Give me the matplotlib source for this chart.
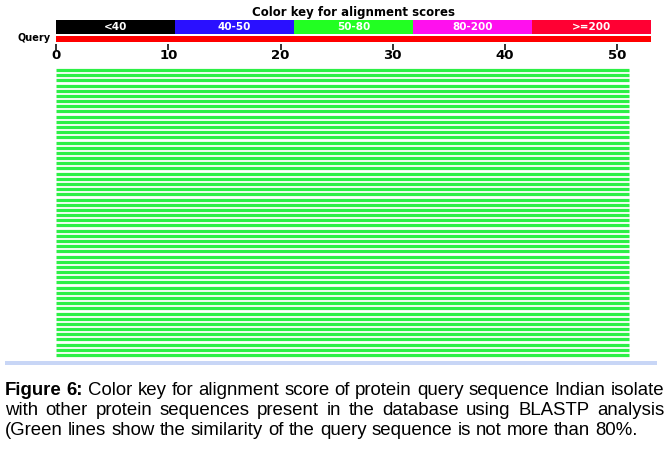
import matplotlib
matplotlib.use("Agg")
import matplotlib.pyplot as plt
from matplotlib.patches import Rectangle

# color key categories
key_labels = ['<40', '40-50', '50-80', '80-200', '>=200']
key_colors = ['#000000', '#2a10ff', '#22ff22', '#ff10ee', '#ff0033']

# query length and hit alignments (start, end on query)
query_len = 53
n_hits = 56
hit_start = [0] * n_hits
hit_end = [51] * n_hits

tick_vals = [0, 10, 20, 30, 40, 50]

caption_bold = 'Figure 6:'
caption_lines = [
    'Color key for alignment score of protein query sequence Indian isolate',
    'with other protein sequences present in the database using BLASTP analysis',
    '(Green lines show the similarity of the query sequence is not more than 80%.',
]

W, H = 667, 459
fig = plt.figure(figsize=(W / 100, H / 100), dpi=100)
fig.patch.set_facecolor('white')

left = 56 / W
width = 595 / W

# header: color key, query bar, ruler
hx = fig.add_axes([left, 1 - 44 / H, width, 44 / H])
hx.set_xlim(0, query_len)
hx.set_ylim(44, 0)
for s in hx.spines.values():
    s.set_visible(False)
hx.set_yticks([])
hx.set_xticks(tick_vals)
hx.set_xticklabels([str(t) for t in tick_vals], fontsize=9.5, fontweight='bold',
                   family='DejaVu Sans')
hx.tick_params(axis='x', direction='out', length=4.5, width=1.3, pad=-1, color='#222222')

seg_w = query_len / len(key_labels)
for i, (lab, col) in enumerate(zip(key_labels, key_colors)):
    hx.barh(26.5, seg_w, left=i * seg_w, height=14, color=col, edgecolor='none')
    hx.text(i * seg_w + seg_w / 2, 27, lab, color='white', fontsize=7.5,
            fontweight='bold', ha='center', va='center')
hx.barh(39, query_len, left=0, height=5.5, color='#ff0000', edgecolor='none')
hx.text(query_len / 2, 12.5, 'Color key for alignment scores', fontsize=8.5,
        fontweight='bold', ha='center', va='center')
hx.text(-0.5, 38, 'Query', fontsize=7, fontweight='bold', ha='right', va='center')

# hits
ax = fig.add_axes([left, 1 - 357.6 / H, width, (357.6 - 67.4) / H])
ax.set_xlim(0, query_len)
ax.set_ylim(n_hits - 0.5, -0.5)
ax.axis('off')
for i in range(n_hits):
    ax.hlines(i, hit_start[i], hit_end[i], color='#2cf046', linewidth=2.3)

# bottom separator
fig.add_artist(Rectangle((5 / W, 1 - 364.5 / H), 652 / W, 4 / H,
                         transform=fig.transFigure, color='#c8d6f6', lw=0))

# caption, justified like the journal layout
fs = 13.4
x_left, x_right = 5, 664
renderer = fig.canvas.get_renderer()


def word_width(w, bold):
    t = fig.text(0, 0, w, fontsize=fs, family='Liberation Sans',
                 fontweight='bold' if bold else 'normal')
    wd = t.get_window_extent(renderer).width
    t.remove()
    return wd


def draw_line(words, y, justify):
    widths = [word_width(w, b) for w, b in words]
    space = word_width('a a', False) - 2 * word_width('a', False)
    if justify and len(words) > 1:
        gap = (x_right - x_left - sum(widths)) / (len(words) - 1)
    else:
        gap = space
    x = x_left
    for (w, b), wd in zip(words, widths):
        fig.text(x / W, y, w, fontsize=fs, family='Liberation Sans',
                 fontweight='bold' if b else 'normal', va='baseline')
        x += wd + gap


base = [395, 415, 435]
line_words = [
    [(w, True) for w in caption_bold.split()] + [(w, False) for w in caption_lines[0].split()],
    [(w, False) for w in caption_lines[1].split()],
    [(w, False) for w in caption_lines[2].split()],
]
for k, words in enumerate(line_words):
    draw_line(words, 1 - base[k] / H, justify=k < 2)

fig.savefig('out.png', dpi=100, facecolor='white')
